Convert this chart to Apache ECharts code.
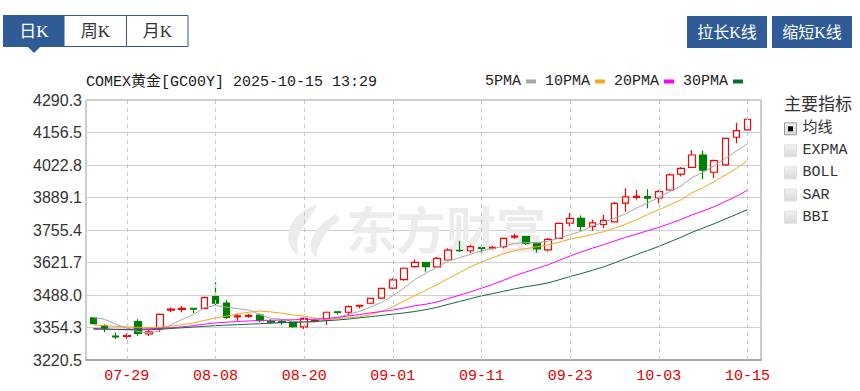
<!DOCTYPE html>
<html><head><meta charset="utf-8">
<script src="https://cdn.jsdelivr.net/npm/echarts@6/dist/echarts.min.js"></script>
<style>html,body{margin:0;padding:0;background:#fff}#c{width:860px;height:391px}</style>
</head><body><div id="c"></div>
<script>
// ---------- data ----------
const dates = ["07-24","07-25","07-28","07-29","07-30","07-31","08-01","08-04","08-05","08-06","08-07","08-08","08-11","08-12","08-13","08-14","08-15","08-18","08-19","08-20","08-21","08-22","08-25","08-26","08-27","08-28","08-29","09-01","09-02","09-03","09-04","09-05","09-08","09-09","09-10","09-11","09-12","09-15","09-16","09-17","09-18","09-19","09-22","09-23","09-24","09-25","09-26","09-29","09-30","10-01","10-02","10-03","10-06","10-07","10-08","10-09","10-10","10-13","10-14","10-15"];
const openPrices  = [3394,3362,3319,3318,3378,3328,3351,3426,3429,3433,3433,3481,3455,3398,3400,3405,3380,3379,3377,3357,3381,3385,3419,3417,3442,3454,3475,3516,3551,3605,3621,3604,3632,3672,3670,3683,3681,3687,3726,3728,3701,3674,3721,3784,3803,3770,3778,3789,3866,3890,3893,3887,3920,3985,4013,4064,3993,4023,4137,4167];
const closePrices = [3370,3352,3316,3321,3330,3336,3408,3430,3433,3430,3477,3454,3396,3402,3404,3382,3376,3375,3358,3392,3383,3417,3416,3440,3445,3474,3515,3550,3598,3622,3605,3639,3673,3670,3687,3680,3684,3721,3730,3700,3678,3717,3783,3803,3770,3785,3795,3865,3892,3894,3886,3913,3982,4009,4064,4002,4041,4132,4164,4211];
const lowPrices   = [3368,3336,3307,3308,3320,3319,3336,3418,3417,3414,3429,3447,3390,3382,3394,3376,3370,3366,3353,3348,3376,3365,3408,3405,3432,3450,3471,3512,3547,3600,3584,3602,3630,3666,3660,3660,3675,3680,3719,3694,3663,3667,3718,3770,3752,3752,3764,3786,3831,3880,3845,3865,3917,3976,4010,3964,3968,4020,4112,4165];
const highPrices  = [3396,3368,3334,3330,3388,3344,3412,3437,3443,3434,3482,3540,3466,3410,3410,3412,3388,3386,3381,3396,3390,3420,3420,3446,3446,3477,3518,3557,3602,3634,3624,3644,3680,3711,3695,3690,3690,3724,3740,3732,3705,3722,3786,3825,3815,3798,3818,3871,3927,3920,3923,3920,3988,4015,4084,4082,4045,4135,4197,4212];
const ma5  = [3395,3388,3368,3352,3337.8,3331,3342.2,3365,3387.4,3407.4,3435.6,3444.8,3438,3431.8,3426.6,3407.6,3392,3387.8,3379,3376.6,3376.8,3385,3393.2,3409.6,3420.2,3438.4,3458,3484.8,3516.4,3551.8,3578,3602.8,3627.4,3641.8,3654.8,3669.8,3678.8,3688.4,3700.4,3703,3702.6,3709.2,3721.6,3736.2,3750.2,3771.6,3787.2,3803.6,3821.4,3846.2,3866.4,3890,3913.4,3936.8,3970.8,3994,4019.6,4049.6,4080.6,4110];
const ma10 = [3365,3362,3359,3357,3355,3354,3355,3360,3366,3372.6,3383.3,3393.5,3401.5,3409.6,3417,3421.6,3418.4,3412.9,3405.4,3401.6,3392.2,3388.5,3390.5,3394.3,3398.4,3407.6,3421.5,3439,3463,3486,3508.2,3530.4,3556.1,3579.1,3603.3,3623.9,3640.8,3657.9,3671.1,3678.9,3686.2,3694,3705,3718.3,3726.6,3737.1,3748.2,3762.6,3778.8,3798.2,3819,3838.6,3858.5,3879.1,3908.5,3930.2,3954.8,3981.5,4008.7,4040.4];
const ma20 = [3347,3347,3347,3347,3348,3349,3351,3353,3357,3362,3368,3373,3376,3379,3381,3383,3384,3385,3386,3387.1,3387.8,3391,3396,3402,3407.7,3414.6,3420,3426,3434.2,3443.8,3450.2,3459.5,3473.3,3486.7,3500.9,3515.8,3531.2,3548.5,3567.1,3582.5,3597.2,3612.2,3630.6,3648.7,3665,3680.5,3694.5,3710.3,3725,3738.6,3752.6,3766.3,3781.8,3798.7,3817.6,3833.7,3851.5,3872.1,3893.8,3919.3];
const ma30 = [3350,3348,3346,3345,3345,3345,3347,3350,3353,3356,3359,3362,3364,3366,3368,3370,3372,3374,3375,3377,3379,3382,3385,3389,3394,3399,3404,3409,3414,3420.1,3427.9,3437.5,3449.4,3461,3472.9,3484.4,3493.6,3503.3,3513.2,3522.2,3528.9,3537.6,3550.5,3563.9,3576.1,3589.5,3603.5,3619.8,3637.6,3654.4,3671.1,3687.7,3706.5,3725.5,3746.1,3763.7,3781.3,3800.7,3819.5,3839.2];
const maNames = ["5PMA","10PMA","20PMA","30PMA"];
const xTickLabels = ["07-29","08-08","08-20","09-01","09-11","09-23","10-03","10-15"];
const yTickLabels = ["3220.5","3354.3","3488.0","3621.7","3755.4","3889.1","4022.8","4156.5","4290.3"];
const yMin = 3220.5, yMax = 4290.3;
const titleText = "COMEX黄金[GC00Y] 2025-10-15 13:29";
const tabNames = ["日K","周K","月K"];
const buttonNames = ["拉长K线","缩短K线"];
const panelTitle = "主要指标";
const indicatorNames = ["均线","EXPMA","BOLL","SAR","BBI"];
const watermarkText = "东方财富";

// ---------- build ----------
const candleData = dates.map((d, i) => [openPrices[i], closePrices[i], lowPrices[i], highPrices[i]]);
const maData = [ma5, ma10, ma20, ma30];
const maColors = ['#a8a8a8', '#f0a81c', '#ff00ff', '#0f6b3a'];
const yStep = (yMax - yMin) / 8;
const MONO = "'Liberation Mono','DejaVu Sans Mono','Noto Sans CJK SC',monospace";
const SERIF = "'Liberation Serif','Noto Sans CJK SC',serif";
const CJK = "'Noto Sans CJK SC','Liberation Sans',sans-serif";
const BLUE = '#2f5b97';

const graphic = [];
// watermark logo + text
graphic.push({type:'polygon', z:1, silent:true,
  shape:{points:[[318,204],[306,209],[296,217],[289,228],[288,240],[292,250],[298,256],[297,244],[300,232],[308,220]]},
  style:{fill:'#ececec'}});
graphic.push({type:'polygon', z:1, silent:true,
  shape:{points:[[336,214],[324,222],[315,232],[310,244],[312,253],[316,258],[318,248],[323,237],[331,227],[340,220]]},
  style:{fill:'#ececec'}});
graphic.push({type:'text', x:346, y:227, z:1, silent:true,
  style:{text:watermarkText, font:"bold 50px " + CJK, fill:'#ececec', verticalAlign:'middle'}});
// tabs
graphic.push({type:'rect', shape:{x:3.5, y:15.5, width:184.5, height:31}, style:{fill:'#fff', stroke:BLUE, lineWidth:1}});
graphic.push({type:'rect', shape:{x:3, y:15, width:61.5, height:32}, style:{fill:BLUE}});
graphic.push({type:'polygon', shape:{points:[[28,47],[40,47],[34,53]]}, style:{fill:BLUE}});
graphic.push({type:'line', shape:{x1:126.5, y1:15.5, x2:126.5, y2:46.5}, style:{stroke:BLUE, lineWidth:1}});
const tabCenters = [34, 95.5, 157.3];
tabNames.forEach((t, i) => graphic.push({type:'text', x:tabCenters[i], y:31.5,
  style:{text:t, font:"17px " + SERIF, fill: i === 0 ? '#fff' : '#333', align:'center', verticalAlign:'middle'}}));
// buttons
const btnX = [687, 772];
buttonNames.forEach((t, i) => {
  graphic.push({type:'rect', shape:{x:btnX[i], y:16, width:80, height:32}, style:{fill:BLUE}});
  graphic.push({type:'text', x:btnX[i] + 40, y:32.5,
    style:{text:t, font:"16px " + SERIF, fill:'#fff', align:'center', verticalAlign:'middle'}});
});
// title
graphic.push({type:'text', x:86, y:82.5, style:{text:titleText, font:"15px " + MONO, fill:'#1a1a1a', verticalAlign:'middle'}});
// right panel
graphic.push({type:'text', x:784, y:102, style:{text:panelTitle, font:"17px " + CJK, fill:'#333', verticalAlign:'middle'}});
const rowY = [128.8, 150.8, 172.8, 195, 217.2];
indicatorNames.forEach((t, i) => {
  graphic.push({type:'rect', shape:{x:784.5, y:rowY[i] - 6, width:12, height:12},
    style:{fill:new echarts.graphic.LinearGradient(0,0,0,1,[{offset:0,color:'#f2f2f2'},{offset:1,color:'#d8d8d8'}]),
           stroke: i === 0 ? '#9a9a9a' : '#e0e0e0', lineWidth:1}});
  if (i === 0) graphic.push({type:'rect', shape:{x:788, y:rowY[i] - 2.5, width:5, height:5}, style:{fill:'#000'}});
  graphic.push({type:'text', x:802.5, y:rowY[i], style:{text:t, font:"15px " + MONO, fill:'#333', verticalAlign:'middle'}});
});

const series = [{
  type:'candlestick', name:'K', xAxisIndex:1, yAxisIndex:1, data:candleData, barWidth:7, z:2,
  itemStyle:{color:'#ffffff', color0:'#008000', borderColor:'#ff0000', borderColor0:'#008000', borderWidth:1.2},
  markLine:{silent:true, symbol:['none','none'], label:{show:false}, animation:false,
    lineStyle:{color:'#c8c8c8', type:[4,4], width:1},
    emphasis:{disabled:true},
    data:xTickLabels.map(d => ({xAxis:d}))}
}];
maNames.forEach((n, k) => series.push({
  type:'line', name:n, xAxisIndex:1, yAxisIndex:1, data:maData[k], symbol:'none', z:3,
  color:maColors[k], lineStyle:{width:1, color:maColors[k]}, itemStyle:{color:maColors[k]}
}));

const chart = echarts.init(document.getElementById('c'), null, {renderer:'svg', width:860, height:391});
chart.setOption({
  animation:false,
  backgroundColor:'#fff',
  legend:{data:maNames, left:485, top:74, align:'right', icon:'rect', itemWidth:10, itemHeight:4, itemGap:9,
    selectedMode:false, padding:0, textStyle:{fontFamily:MONO, fontSize:15, color:'#222'}},
  grid:[{left:86, right:99, top:100, bottom:31, show:true, borderColor:'#9a9a9a', borderWidth:1},
        {left:88, right:107, top:100, bottom:31}],
  xAxis:[
    {type:'value', gridIndex:0, min:0, max:1, position:'bottom',
     axisLine:{show:true, onZero:false, lineStyle:{color:'#a8a8a8', width:2}}, axisTick:{show:false}, axisLabel:{show:false}, splitLine:{show:false}},
    {type:'category', gridIndex:1, data:dates, boundaryGap:true,
     axisLine:{show:false}, axisTick:{show:false}, splitLine:{show:false},
     axisLabel:{interval:(i, v) => xTickLabels.indexOf(v) >= 0, color:'#e60000', fontFamily:MONO, fontSize:15, margin:9}}
  ],
  yAxis:[
    {type:'value', gridIndex:0, min:yMin, max:yMax, interval:yStep,
     axisLine:{show:false}, axisTick:{show:false},
     splitLine:{show:true, lineStyle:{color:'#cfcfcf', width:1}},
     axisLabel:{showMinLabel:true, showMaxLabel:true, formatter:v => yTickLabels[Math.round((v - yMin) / yStep)],
       color:'#333', fontFamily:"'Liberation Sans',Arial,sans-serif", fontSize:16, margin:4}},
    {type:'value', gridIndex:1, min:yMin, max:yMax, show:false, splitLine:{show:false}}
  ],
  graphic:graphic,
  series:series
});
</script></body></html>
